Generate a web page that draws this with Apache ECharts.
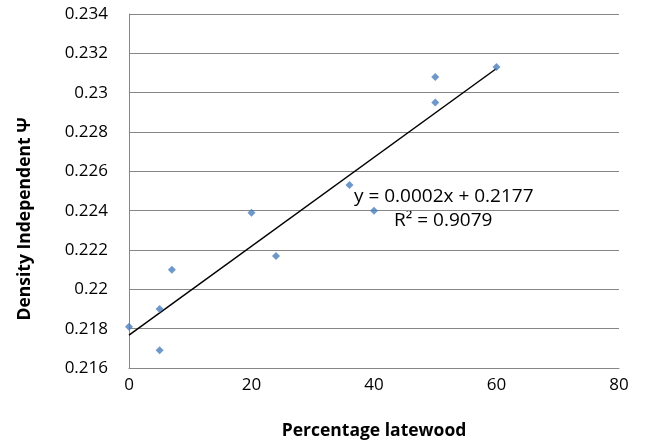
<!DOCTYPE html>
<html>
<head>
<meta charset="utf-8">
<script src="https://cdn.jsdelivr.net/npm/echarts@6/dist/echarts.min.js"></script>
<style>
html,body{margin:0;padding:0;background:#fff;}
#chart{width:654px;height:445px;}
</style>
</head>
<body>
<div id="chart"></div>
<script>
// Data
var latewoodPct = [0, 5, 5, 7, 20, 24, 36, 40, 50, 50, 60];
var densityPsi = [0.2181, 0.2190, 0.2169, 0.2210, 0.2239, 0.2217, 0.2253, 0.2240, 0.2308, 0.2295, 0.2313];
var xTicks = [0, 20, 40, 60, 80];
var yTicks = [0.216, 0.218, 0.22, 0.222, 0.224, 0.226, 0.228, 0.23, 0.232, 0.234];
var equationText = 'y = 0.0002x + 0.2177';
var r2Text = 'R\u00B2 = 0.9079';

// Linear least-squares trendline from the data
var n = latewoodPct.length, sx = 0, sy = 0, sxx = 0, sxy = 0;
for (var i = 0; i < n; i++) {
  sx += latewoodPct[i]; sy += densityPsi[i];
  sxx += latewoodPct[i] * latewoodPct[i]; sxy += latewoodPct[i] * densityPsi[i];
}
var slope = (n * sxy - sx * sy) / (n * sxx - sx * sx);
var intercept = (sy - slope * sx) / n;
var xMinData = Math.min.apply(null, latewoodPct), xMaxData = Math.max.apply(null, latewoodPct);
var trend = [[xMinData, intercept + slope * xMinData], [xMaxData, intercept + slope * xMaxData]];

var points = latewoodPct.map(function (x, i) { return [x, densityPsi[i]]; });

var FONT = 'Open Sans';
var chart = echarts.init(document.getElementById('chart'), null, {renderer: 'canvas'});
chart.setOption({
  animation: false,
  backgroundColor: '#ffffff',
  grid: {left: 129, right: 35, top: 14, bottom: 75, containLabel: false},
  xAxis: {
    type: 'value',
    min: xTicks[0], max: xTicks[xTicks.length - 1], interval: xTicks[1] - xTicks[0],
    name: 'Percentage latewood',
    nameLocation: 'middle', nameGap: 54,
    nameTextStyle: {fontFamily: FONT, fontWeight: 'bold', fontSize: 17.5, color: '#000'},
    axisLine: {show: true, lineStyle: {color: '#868686', width: 1}},
    axisTick: {show: false},
    splitLine: {show: false},
    axisLabel: {fontFamily: FONT, fontSize: 17, color: '#000', margin: 9}
  },
  yAxis: {
    type: 'value',
    min: yTicks[0], max: yTicks[yTicks.length - 1], interval: 0.002,
    name: 'Density Independent \u03A8',
    nameLocation: 'middle', nameGap: 95, nameRotate: 90,
    nameTextStyle: {fontFamily: FONT, fontWeight: 'bold', fontSize: 17.5, color: '#000', padding: [0, 56, 0, 0]},
    axisLine: {show: true, lineStyle: {color: '#868686', width: 1}},
    axisTick: {show: false},
    splitLine: {show: true, lineStyle: {color: '#868686', width: 1}},
    axisLabel: {fontFamily: FONT, fontSize: 17, color: '#000', margin: 21,
      formatter: function (v) { return String(+v.toFixed(3)); }}
  },
  series: [
    {
      type: 'line', data: trend, symbol: 'none', silent: true,
      lineStyle: {color: '#000', width: 1.5}, z: 2
    },
    {
      type: 'scatter', data: points, symbol: 'diamond', symbolSize: 8,
      itemStyle: {color: '#4a7ebb'}, z: 3
    }
  ],
  graphic: [
    {type: 'text', left: 354, top: 187, style: {text: equationText, font: '19px "Open Sans"', fill: '#000'}},
    {type: 'text', left: 394, top: 211, style: {text: r2Text, font: '19px "Open Sans"', fill: '#000'}}
  ]
});
</script>
</body>
</html>
